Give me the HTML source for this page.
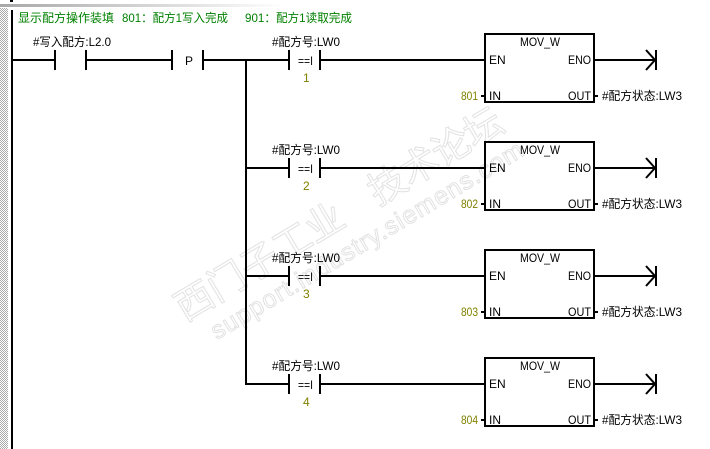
<!DOCTYPE html>
<html><head><meta charset="utf-8"><style>
html,body{margin:0;padding:0;background:#fff;width:710px;height:449px;overflow:hidden}
svg{display:block}
text{font-family:"Liberation Sans","WenQuanYi Zen Hei","Noto Sans CJK SC",sans-serif;font-size:12px;fill:#000}
.g{fill:#008000}.o{fill:#808000}
.w{font-size:38px;fill:none;stroke:#e2e2e2;stroke-width:1}
.w2{font-size:25px;fill:none;stroke:#e2e2e2;stroke-width:1}
</style></head><body>
<svg width="710" height="449" viewBox="0 0 710 449" xmlns="http://www.w3.org/2000/svg">
<defs>
<pattern id="d" width="2" height="2" patternUnits="userSpaceOnUse"><rect width="2" height="2" fill="#fff"/><rect width="1" height="1" fill="#aaa"/><rect x="1" y="1" width="1" height="1" fill="#aaa"/></pattern>
<linearGradient id="t" x1="0" x2="1" y1="0" y2="0"><stop offset="0" stop-color="#a8a8a8"/><stop offset="1" stop-color="#fff"/></linearGradient>
</defs>
<rect x="0" y="8" width="8" height="441" fill="url(#d)"/>
<rect x="0" y="4" width="285" height="3" fill="url(#t)"/>
<rect x="10" y="0" width="3" height="2" fill="#000"/>
<g transform="translate(5 2) rotate(-31 180 320)">
<text class="w" x="180" y="320" textLength="190" lengthAdjust="spacing">西门子工业</text>
<text class="w" x="405" y="320" textLength="150" lengthAdjust="spacing">技术论坛</text>
<text class="w2" x="198" y="352" textLength="360" lengthAdjust="spacing">support.industry.siemens.com</text>
</g>
<g fill="none" stroke="#000" stroke-width="2" shape-rendering="crispEdges">
<path d="M12 10V449"/>
<path d="M12 60H55M86 60H172M203 60H289M320 60H485M594 60H655"/>
<path d="M55 50V70M86 50V70M172 50V70M203 50V70M289 50V70M320 50V70"/>
<path d="M246 60V385"/>
<path d="M246 168H289M320 168H485M594 168H655M289 158V178M320 158V178"/>
<path d="M246 276H289M320 276H485M594 276H655M289 266V286M320 266V286"/>
<path d="M246 384H289M320 384H485M594 384H655M289 374V394M320 374V394"/>
<rect x="485" y="34" width="109" height="68"/>
<rect x="485" y="142" width="109" height="68"/>
<rect x="485" y="250" width="109" height="68"/>
<rect x="485" y="358" width="109" height="68"/>
<path d="M481 96H485M594 96H598M481 204H485M594 204H598M481 312H485M594 312H598M481 420H485M594 420H598"/>
<path d="M656 50V70M656 158V178M656 266V286M656 374V394"/>
</g>
<g fill="none" stroke="#000" stroke-width="2">
<path d="M646 50L655 60L646 70M646 158L655 168L646 178M646 266L655 276L646 286M646 374L655 384L646 394"/>
</g>
<text class="g" x="18" y="22" textLength="96" lengthAdjust="spacingAndGlyphs">显示配方操作装填</text>
<text class="g" x="122" y="22" textLength="106" lengthAdjust="spacingAndGlyphs">801：配方1写入完成</text>
<text class="g" x="245" y="22" textLength="107" lengthAdjust="spacingAndGlyphs">901：配方1读取完成</text>
<text x="33" y="46" textLength="78" lengthAdjust="spacingAndGlyphs">#写入配方:L2.0</text>
<text x="185" y="65">P</text>
<text x="272" y="46" textLength="68" lengthAdjust="spacingAndGlyphs">#配方号:LW0</text>
<text x="272" y="154" textLength="68" lengthAdjust="spacingAndGlyphs">#配方号:LW0</text>
<text x="272" y="262" textLength="68" lengthAdjust="spacingAndGlyphs">#配方号:LW0</text>
<text x="272" y="370" textLength="68" lengthAdjust="spacingAndGlyphs">#配方号:LW0</text>
<text x="298" y="65" textLength="15" lengthAdjust="spacingAndGlyphs">==I</text>
<text x="298" y="173" textLength="15" lengthAdjust="spacingAndGlyphs">==I</text>
<text x="298" y="281" textLength="15" lengthAdjust="spacingAndGlyphs">==I</text>
<text x="298" y="389" textLength="15" lengthAdjust="spacingAndGlyphs">==I</text>
<text class="o" x="303" y="82">1</text>
<text class="o" x="303" y="190">2</text>
<text class="o" x="303" y="298">3</text>
<text class="o" x="303" y="406">4</text>
<text x="520" y="46" textLength="40" lengthAdjust="spacingAndGlyphs">MOV_W</text>
<text x="520" y="154" textLength="40" lengthAdjust="spacingAndGlyphs">MOV_W</text>
<text x="520" y="262" textLength="40" lengthAdjust="spacingAndGlyphs">MOV_W</text>
<text x="520" y="370" textLength="40" lengthAdjust="spacingAndGlyphs">MOV_W</text>
<text x="489" y="64">EN</text><text x="568" y="64" textLength="23" lengthAdjust="spacingAndGlyphs">ENO</text>
<text x="489" y="172">EN</text><text x="568" y="172" textLength="23" lengthAdjust="spacingAndGlyphs">ENO</text>
<text x="489" y="280">EN</text><text x="568" y="280" textLength="23" lengthAdjust="spacingAndGlyphs">ENO</text>
<text x="489" y="388">EN</text><text x="568" y="388" textLength="23" lengthAdjust="spacingAndGlyphs">ENO</text>
<text x="489" y="100">IN</text><text x="568" y="100" textLength="23" lengthAdjust="spacingAndGlyphs">OUT</text>
<text x="489" y="208">IN</text><text x="568" y="208" textLength="23" lengthAdjust="spacingAndGlyphs">OUT</text>
<text x="489" y="316">IN</text><text x="568" y="316" textLength="23" lengthAdjust="spacingAndGlyphs">OUT</text>
<text x="489" y="424">IN</text><text x="568" y="424" textLength="23" lengthAdjust="spacingAndGlyphs">OUT</text>
<text class="o" x="461" y="100" textLength="17" lengthAdjust="spacingAndGlyphs">801</text>
<text class="o" x="461" y="208" textLength="17" lengthAdjust="spacingAndGlyphs">802</text>
<text class="o" x="461" y="316" textLength="17" lengthAdjust="spacingAndGlyphs">803</text>
<text class="o" x="461" y="424" textLength="17" lengthAdjust="spacingAndGlyphs">804</text>
<text x="602" y="100" textLength="80" lengthAdjust="spacingAndGlyphs">#配方状态:LW3</text>
<text x="602" y="208" textLength="80" lengthAdjust="spacingAndGlyphs">#配方状态:LW3</text>
<text x="602" y="316" textLength="80" lengthAdjust="spacingAndGlyphs">#配方状态:LW3</text>
<text x="602" y="424" textLength="80" lengthAdjust="spacingAndGlyphs">#配方状态:LW3</text>
</svg>
</body></html>
